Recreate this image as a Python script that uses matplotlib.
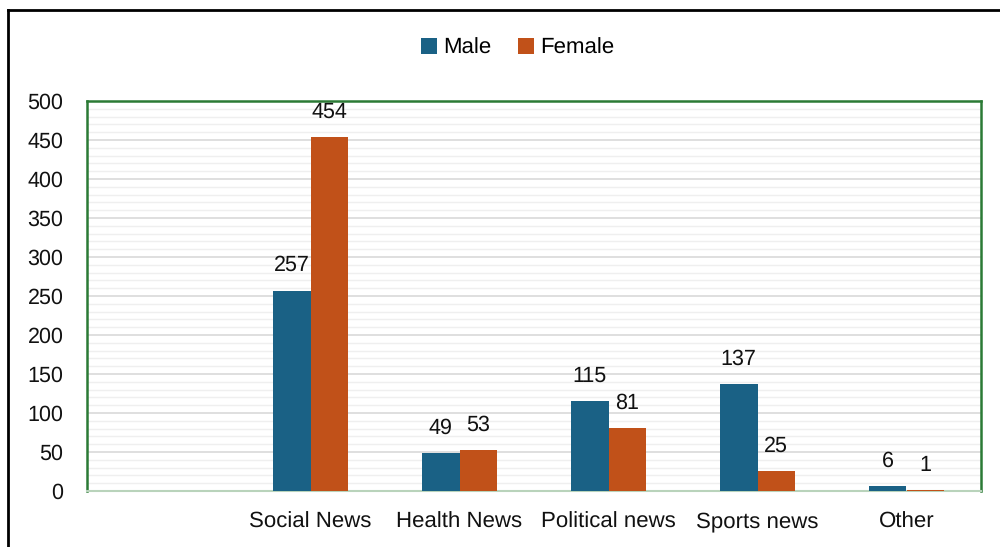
import matplotlib
matplotlib.use("Agg")
import matplotlib.pyplot as plt
import numpy as np
from matplotlib.lines import Line2D

categories = ["", "Social News", "Health News", "Political news", "Sports news", "Other"]
male = [0, 257, 49, 115, 137, 6]
female = [0, 454, 53, 81, 25, 1]
yticks = [0, 50, 100, 150, 200, 250, 300, 350, 400, 450, 500]

plt.rcParams['font.family'] = ['Liberation Sans', 'DejaVu Sans']
plt.rcParams['text.hinting'] = 'no_hinting'

male_c = "#1A6185"
female_c = "#C15119"
green = "#2B7A35"

fig = plt.figure(figsize=(10, 5.47), dpi=100)
ax = fig.add_axes([0.087, 0.1024, 0.894, 0.713])

x = np.arange(len(categories))
w = 0.252
ax.bar(x - w/2, male, w, color=male_c, zorder=3, label="Male")
ax.bar(x + w/2, female, w, color=female_c, zorder=3, label="Female")

for i in range(1, len(categories)):
    ax.annotate(str(male[i]), (x[i] - w/2, male[i]), xytext=(0, 18), textcoords="offset points",
                ha="center", va="center", fontsize=15.5, color="#111111")
    ax.annotate(str(female[i]), (x[i] + w/2, female[i]), xytext=(0, 18), textcoords="offset points",
                ha="center", va="center", fontsize=15.5, color="#111111")

ax.set_xlim(-0.5, len(categories) - 0.5)
ax.set_ylim(0, 500)
ax.set_yticks(yticks)
ax.set_yticks(np.arange(0, 501, 10), minor=True)
ax.set_xticks(x)
ax.set_xticklabels(categories, fontsize=16)
ax.tick_params(axis='both', which='both', length=0, colors="#111111")
ax.tick_params(axis='y', labelsize=15.5, pad=17)
ax.tick_params(axis='x', pad=15)
ax.grid(axis='y', which='major', color="#d9d9d9", linewidth=1.2, zorder=0)
ax.grid(axis='y', which='minor', color="#efefef", linewidth=1.0, zorder=0)
ax.set_axisbelow(True)

for s in ['left', 'top', 'right']:
    ax.spines[s].set_color(green)
    ax.spines[s].set_linewidth(1.8)
ax.spines['bottom'].set_color("#b9d3bb")
ax.spines['bottom'].set_linewidth(1.5)

ax.legend(loc='center', bbox_to_anchor=(0.518, 0.912), bbox_transform=fig.transFigure, ncol=2,
          frameon=False, fontsize=16, handlelength=0.7, handleheight=0.7,
          handletextpad=0.3, columnspacing=1.2)

# outer frame (top and left)
fig.add_artist(Line2D([0.008, 1.0], [1 - 10/547, 1 - 10/547], color="black", linewidth=2, transform=fig.transFigure))
fig.add_artist(Line2D([0.008, 0.008], [0, 1 - 10/547], color="black", linewidth=2, transform=fig.transFigure))

fig.savefig("out.png", dpi=100)
